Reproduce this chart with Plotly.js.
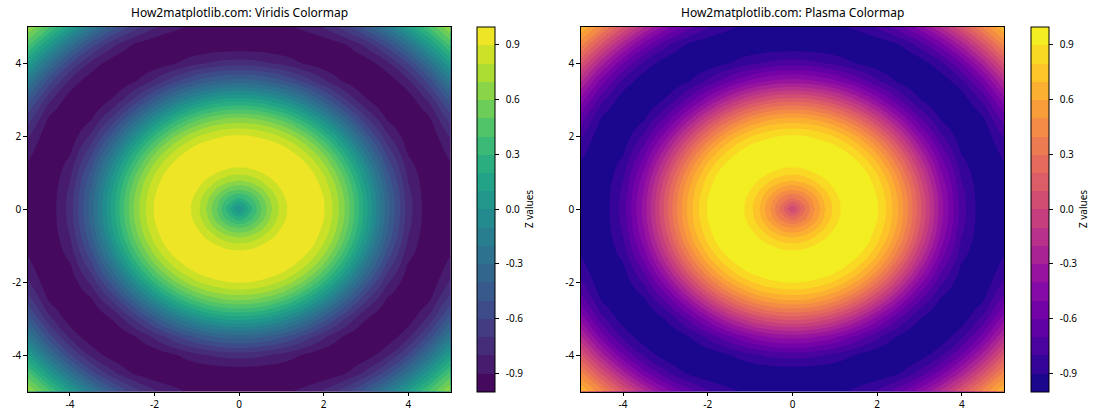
<!DOCTYPE html>
<html>
<head>
<meta charset="utf-8">
<script src="https://cdn.plot.ly/plotly-3.0.1.min.js"></script>
<style>
  html, body { margin: 0; padding: 0; background: #fff; }
  #chart { width: 1120px; height: 420px; }
</style>
</head>
<body>
<div id="chart"></div>
<script>
// ---- data ----
const xValues = [-5, -4.5, -4, -3.5, -3, -2.75, -2.5, -2.25, -2, -1.75, -1.5, -1.25, -1, -0.75, -0.5, -0.25, 0,
                 0.25, 0.5, 0.75, 1, 1.25, 1.5, 1.75, 2, 2.25, 2.5, 2.75, 3, 3.5, 4, 4.5, 5];
const yValues = [-5, -4.5, -4, -3.5, -3, -2.75, -2.5, -2.25, -2, -1.75, -1.5, -1.25, -1, -0.75, -0.5, -0.25, 0,
                 0.25, 0.5, 0.75, 1, 1.25, 1.5, 1.75, 2, 2.25, 2.5, 2.75, 3, 3.5, 4, 4.5, 5];
// Z values for one quadrant; rows = |y|, columns = |x| at
// 0, .25, .5, .75, 1, 1.25, 1.5, 1.75, 2, 2.25, 2.5, 2.75, 3, 3.5, 4, 4.5, 5
const zQuadrant = [
  [ 0.000,  0.247,  0.479,  0.682,  0.841,  0.949,  0.997,  0.984,  0.909,  0.778,  0.598,  0.382,  0.141, -0.351, -0.757, -0.978, -0.959],
  [ 0.247,  0.346,  0.530,  0.711,  0.858,  0.957,  0.999,  0.981,  0.903,  0.769,  0.588,  0.371,  0.131, -0.359, -0.762, -0.979, -0.957],
  [ 0.479,  0.530,  0.650,  0.784,  0.899,  0.975,  1.000,  0.969,  0.882,  0.742,  0.558,  0.340,  0.100, -0.384, -0.777, -0.983, -0.952],
  [ 0.682,  0.711,  0.784,  0.873,  0.949,  0.994,  0.994,  0.945,  0.845,  0.696,  0.507,  0.287,  0.049, -0.424, -0.801, -0.989, -0.942],
  [ 0.841,  0.858,  0.899,  0.949,  0.988,  1.000,  0.973,  0.903,  0.787,  0.628,  0.434,  0.214, -0.021, -0.478, -0.831, -0.995, -0.926],
  [ 0.949,  0.957,  0.975,  0.994,  1.000,  0.981,  0.928,  0.837,  0.705,  0.538,  0.340,  0.121, -0.108, -0.544, -0.867, -0.999, -0.904],
  [ 0.997,  0.999,  1.000,  0.994,  0.973,  0.928,  0.852,  0.742,  0.598,  0.424,  0.224,  0.009, -0.211, -0.618, -0.905, -1.000, -0.872],
  [ 0.984,  0.981,  0.969,  0.945,  0.903,  0.837,  0.742,  0.618,  0.465,  0.287,  0.090, -0.118, -0.325, -0.697, -0.941, -0.993, -0.834],
  [ 0.909,  0.903,  0.882,  0.845,  0.787,  0.705,  0.598,  0.465,  0.308,  0.131, -0.060, -0.256, -0.448, -0.777, -0.971, -0.978, -0.782],
  [ 0.778,  0.769,  0.742,  0.696,  0.628,  0.538,  0.424,  0.287,  0.131, -0.040, -0.220, -0.400, -0.572, -0.852, -0.992, -0.950, -0.718],
  [ 0.598,  0.588,  0.558,  0.507,  0.434,  0.340,  0.224,  0.090, -0.060, -0.220, -0.384, -0.544, -0.691, -0.917, -1.000, -0.907, -0.639],
  [ 0.382,  0.371,  0.340,  0.287,  0.214,  0.121,  0.009, -0.118, -0.256, -0.400, -0.544, -0.680, -0.801, -0.966, -0.990, -0.847, -0.545],
  [ 0.141,  0.131,  0.100,  0.049, -0.021, -0.108, -0.211, -0.325, -0.448, -0.572, -0.691, -0.801, -0.892, -0.995, -0.959, -0.767, -0.437],
  [-0.351, -0.359, -0.384, -0.424, -0.478, -0.544, -0.618, -0.697, -0.777, -0.852, -0.917, -0.966, -0.995, -0.972, -0.824, -0.550, -0.179],
  [-0.757, -0.762, -0.777, -0.801, -0.831, -0.867, -0.905, -0.941, -0.971, -0.992, -1.000, -0.990, -0.959, -0.824, -0.586, -0.259,  0.120],
  [-0.978, -0.979, -0.983, -0.989, -0.995, -0.999, -1.000, -0.993, -0.978, -0.950, -0.907, -0.847, -0.767, -0.550, -0.259,  0.081,  0.429],
  [-0.959, -0.957, -0.952, -0.942, -0.926, -0.904, -0.872, -0.834, -0.782, -0.718, -0.639, -0.545, -0.437, -0.179,  0.120,  0.429,  0.709]
];
const axisTicks = [-4, -2, 0, 2, 4];
const cbTicks = [-0.9, -0.6, -0.3, 0.0, 0.3, 0.6, 0.9];
const cbTickLabels = ['-0.9', '-0.6', '-0.3', '0.0', '0.3', '0.6', '0.9'];
const titles = ['How2matplotlib.com: Viridis Colormap', 'How2matplotlib.com: Plasma Colormap'];
const cbTitle = 'Z values';

// ---- styles ----
const viridisStops = ['#440154','#482576','#414487','#35608D','#2A788E','#21908C','#22A884','#43BF71','#7AD151','#BBDF27','#FDE725'];
const plasmaStops  = ['#0D0887','#41049D','#6A00A8','#8F0DA4','#B12A90','#CC4678','#E16462','#F1834B','#FCA636','#FCCE25','#F0F921'];

// mirror the quadrant into the full grid
const n = xValues.length, mid = (n - 1) / 2;
const zGrid = yValues.map((_, r) => xValues.map((_, c) => zQuadrant[Math.abs(r - mid)][Math.abs(c - mid)]));

function hexToRgb(h) { return [1, 3, 5].map(i => parseInt(h.substr(i, 2), 16)); }
function sampleCmap(stops, p) {
  const t = Math.min(Math.max(p, 0), 1) * (stops.length - 1);
  const i = Math.min(Math.floor(t), stops.length - 2), f = t - i;
  const a = hexToRgb(stops[i]), b = hexToRgb(stops[i + 1]);
  const c = a.map((v, k) => Math.round(v + (b[k] - v) * f));
  return 'rgb(' + c.join(',') + ')';
}
// contour fill scale: band colours at matplotlib's band midpoints
function contourScale(stops) {
  const out = [[0, stops[0]]];
  stops.forEach((col, i) => {
    const p = i / (stops.length - 1);
    out.push([(p + 0.025) / 1.05, col]);
  });
  out.push([1, stops[stops.length - 1]]);
  return out;
}
// discrete scale for the colour bar (20 bands on [-1, 1])
function barScale(stops) {
  const out = [];
  const nb = 20;
  for (let k = 0; k < nb; k++) {
    const col = sampleCmap(stops, (k + 0.5) / nb);
    out.push([k / nb, col], [(k + 1) / nb, col]);
  }
  return out;
}

const W = 1120, H = 420;
const plotTop = 26.5, plotBottom = 391.5;
const panels = [
  {x0: 27.7, x1: 450.6, cb: 477},
  {x0: 580.7, x1: 1004.3, cb: 1031}
];
const yDom = [1 - plotBottom / H, 1 - plotTop / H];
const FONT = 'Noto Sans, DejaVu Sans, sans-serif';
const stopsList = [viridisStops, plasmaStops];
const PAD = '\u00a0\u00a0';

const traces = [];
panels.forEach((p, k) => {
  const xa = k === 0 ? 'x' : 'x2', ya = k === 0 ? 'y' : 'y2';
  // hidden underlay carrying the colour bar
  traces.push({
    type: 'heatmap', x: xValues, y: yValues, z: zGrid,
    xaxis: xa, yaxis: ya, zmin: -1, zmax: 1,
    colorscale: barScale(stopsList[k]), hoverinfo: 'skip',
    colorbar: {
      x: p.cb / W, xanchor: 'left', xpad: 0,
      y: yDom[0], yanchor: 'bottom', ypad: 0,
      len: yDom[1] - yDom[0], lenmode: 'fraction',
      thickness: 18, thicknessmode: 'pixels',
      outlinewidth: 1, outlinecolor: '#000',
      tickmode: 'array', tickvals: cbTicks, ticktext: cbTickLabels.map(t => PAD + t),
      ticks: 'outside', ticklen: 3.5, tickwidth: 1, tickcolor: '#000',
      tickfont: {family: FONT, size: 10, color: '#000'},
      title: {text: cbTitle, side: 'right', font: {family: FONT, size: 10, color: '#000'}}
    }
  });
  traces.push({
    type: 'contour', x: xValues, y: yValues, z: zGrid,
    xaxis: xa, yaxis: ya,
    colorscale: contourScale(stopsList[k]), showscale: false,
    autocontour: false,
    contours: {start: -1, end: 1, size: 0.1, coloring: 'fill', showlines: false},
    line: {width: 0, smoothing: 1.3},
    hoverinfo: 'skip'
  });
});

function axis(dom, anchor) {
  return {
    domain: dom, anchor: anchor, range: [-5, 5], autorange: false,
    tickmode: 'array', tickvals: axisTicks, ticktext: axisTicks.map(String),
    ticks: 'outside', ticklen: 3.5, tickwidth: 1, tickcolor: '#000',
    showline: true, mirror: true, linecolor: '#000', linewidth: 1,
    showgrid: false, zeroline: false,
    tickfont: {family: FONT, size: 10, color: '#000'}
  };
}

const layout = {
  width: W, height: H, autosize: false,
  margin: {l: 0, r: 0, t: 0, b: 0},
  paper_bgcolor: '#fff', plot_bgcolor: '#fff',
  font: {family: FONT, color: '#000'},
  showlegend: false,
  xaxis: axis([panels[0].x0 / W, panels[0].x1 / W], 'y'),
  yaxis: axis(yDom, 'x'),
  xaxis2: axis([panels[1].x0 / W, panels[1].x1 / W], 'y2'),
  yaxis2: axis(yDom, 'x2'),
  annotations: panels.map((p, k) => ({
    text: titles[k], xref: 'paper', yref: 'paper',
    x: (p.x0 + p.x1) / 2 / W, y: yDom[1], xanchor: 'center', yanchor: 'bottom',
    yshift: 3, showarrow: false,
    font: {family: FONT, size: 12, color: '#000'}
  }))
};

Plotly.newPlot('chart', traces, layout, {displayModeBar: false, staticPlot: true});
</script>
</body>
</html>
